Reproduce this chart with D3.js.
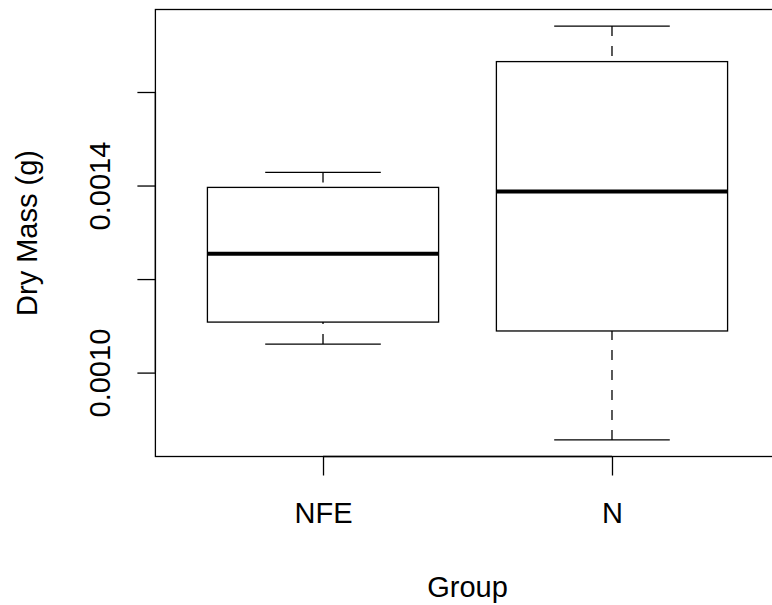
<!DOCTYPE html>
<html>
<head>
<meta charset="utf-8">
<script src="https://cdn.jsdelivr.net/npm/d3@7"></script>
<style>
  html, body { margin: 0; padding: 0; background: #fff; }
  svg { display: block; }
  text { font-family: Arial, "Liberation Sans", Helvetica, sans-serif; fill: #000; }
</style>
</head>
<body>
<svg id="chart" width="772" height="605"></svg>
<script>
// ---- data ----
const groups = ["NFE", "N"];
const lowerWhisker = [0.001061, 0.000856];
const q1 = [0.001108, 0.001089];
const median = [0.001254, 0.001387];
const q3 = [0.001396, 0.001665];
const upperWhisker = [0.001428, 0.001741];
const yTicks = [0.0010, 0.0012, 0.0014, 0.0016];
const yTickLabels = ["0.0010", "", "0.0014", ""];
const xTitle = "Group";
const yTitle = "Dry Mass (g)";

// ---- layout ----
const svg = d3.select("#chart");
const plot = { left: 155.4, right: 779.6, top: 9.5, bottom: 456.5 };
const fontSize = 29;

const n = groups.length;
const xPad = (n) * 0.04;
const x = d3.scaleLinear()
  .domain([0.5 - xPad, n + 0.5 + xPad])
  .range([plot.left, plot.right]);

const yMin = d3.min(lowerWhisker), yMax = d3.max(upperWhisker);
const yPad = (yMax - yMin) * 0.04;
const y = d3.scaleLinear()
  .domain([yMin - yPad, yMax + yPad])
  .range([plot.bottom, plot.top]);

const data = groups.map((g, i) => ({
  g, pos: i + 1,
  lo: lowerWhisker[i], q1: q1[i], med: median[i], q3: q3[i], hi: upperWhisker[i]
}));

const boxHalf = 0.4, capHalf = 0.2;
const lw = 1.3;

const gBox = svg.append("g");
data.forEach(d => {
  const cx = x(d.pos);
  // whiskers (dashed), drawn from whisker end towards box
  gBox.append("line")
    .attr("x1", cx).attr("x2", cx)
    .attr("y1", y(d.hi)).attr("y2", y(d.q3))
    .attr("stroke", "#000").attr("stroke-width", lw)
    .attr("stroke-dasharray", "10,10");
  gBox.append("line")
    .attr("x1", cx).attr("x2", cx)
    .attr("y1", y(d.lo)).attr("y2", y(d.q1))
    .attr("stroke", "#000").attr("stroke-width", lw)
    .attr("stroke-dasharray", "10,10");
  // caps
  [d.hi, d.lo].forEach(v => {
    gBox.append("line")
      .attr("x1", x(d.pos - capHalf)).attr("x2", x(d.pos + capHalf))
      .attr("y1", y(v)).attr("y2", y(v))
      .attr("stroke", "#000").attr("stroke-width", lw);
  });
  // box
  gBox.append("rect")
    .attr("x", x(d.pos - boxHalf))
    .attr("y", y(d.q3))
    .attr("width", x(d.pos + boxHalf) - x(d.pos - boxHalf))
    .attr("height", y(d.q1) - y(d.q3))
    .attr("fill", "none").attr("stroke", "#000").attr("stroke-width", lw);
  // median
  gBox.append("line")
    .attr("x1", x(d.pos - boxHalf)).attr("x2", x(d.pos + boxHalf))
    .attr("y1", y(d.med)).attr("y2", y(d.med))
    .attr("stroke", "#000").attr("stroke-width", 4);
});

// plot frame
svg.append("rect")
  .attr("x", plot.left).attr("y", plot.top)
  .attr("width", plot.right - plot.left).attr("height", plot.bottom - plot.top)
  .attr("fill", "none").attr("stroke", "#000").attr("stroke-width", lw);

// y axis (R style)
const yAxis = d3.axisLeft(y)
  .tickValues(yTicks)
  .tickSize(18)
  .tickFormat((d, i) => yTickLabels[i]);
const gy = svg.append("g")
  .attr("transform", `translate(${plot.left},0)`)
  .call(yAxis);
gy.select(".domain").attr("d", `M0,${y(yTicks[0])}V${y(yTicks[yTicks.length - 1])}`)
  .attr("stroke", "#000").attr("stroke-width", lw);
gy.selectAll(".tick line").attr("stroke", "#000").attr("stroke-width", lw);
gy.selectAll(".tick text")
  .attr("x", null).attr("dy", null)
  .attr("text-anchor", "middle")
  .attr("transform", `translate(${110 - plot.left},0) rotate(-90)`)
  .style("font-size", fontSize + "px")
  .style("font-family", 'Arial, "Liberation Sans", sans-serif')
  .attr("fill", "#000");

// x axis
const xAxis = d3.axisBottom(x)
  .tickValues(data.map(d => d.pos))
  .tickSize(19)
  .tickFormat((d, i) => groups[i]);
const gx = svg.append("g")
  .attr("transform", `translate(0,${plot.bottom})`)
  .call(xAxis);
gx.select(".domain").attr("d", `M${x(1)},0H${x(n)}`)
  .attr("stroke", "#000").attr("stroke-width", lw);
gx.selectAll(".tick line").attr("stroke", "#000").attr("stroke-width", lw);
gx.selectAll(".tick text")
  .attr("y", 523 - plot.bottom).attr("dy", null)
  .style("font-size", fontSize + "px")
  .style("font-family", 'Arial, "Liberation Sans", sans-serif')
  .attr("fill", "#000");

// titles
svg.append("text")
  .attr("x", (plot.left + plot.right) / 2).attr("y", 596.5)
  .attr("text-anchor", "middle")
  .style("font-size", fontSize + "px")
  .text(xTitle);
svg.append("text")
  .attr("transform", `translate(37,${(plot.top + plot.bottom) / 2}) rotate(-90)`)
  .attr("text-anchor", "middle")
  .style("font-size", fontSize + "px")
  .text(yTitle);
</script>
</body>
</html>
